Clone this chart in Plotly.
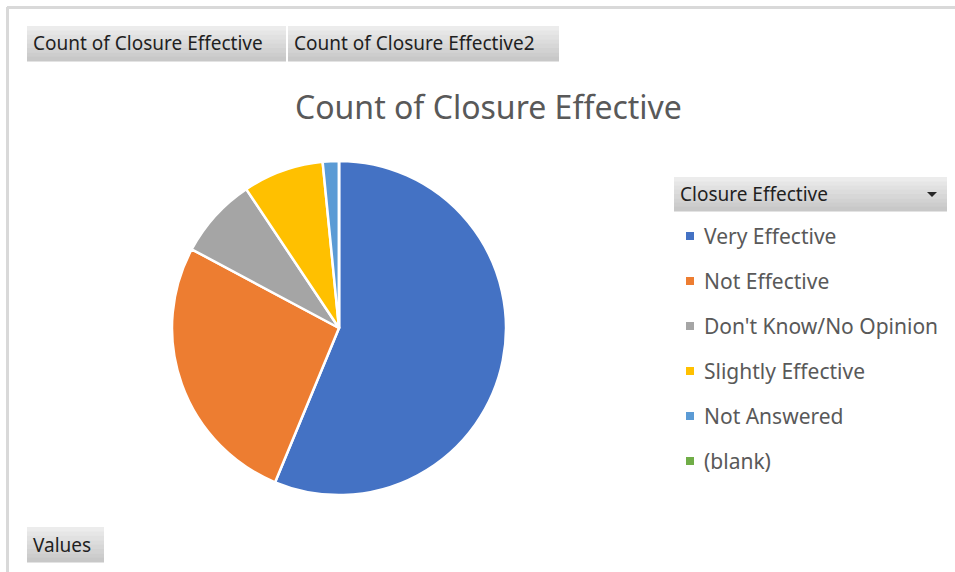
import plotly.graph_objects as go

# Survey responses: how effective was the closure
categories = ["Very Effective", "Not Effective", "Don't Know/No Opinion",
              "Slightly Effective", "Not Answered", "(blank)"]
counts = [36, 17, 5, 5, 1, 0]
colors = ["#4472C4", "#ED7D31", "#A5A5A5", "#FFC000", "#5B9BD5", "#70AD47"]

W, H = 955, 572
FONT = "Noto Sans"


def px(x):
    return x / W


def py(y):
    return 1 - y / H


fig = go.Figure()

# pie centred at (339, 328) px with radius ~166 px
cx, cy, r = 339, 328, 167
fig.add_trace(go.Pie(
    labels=categories,
    values=counts,
    marker=dict(colors=colors, line=dict(color="white", width=2.5)),
    sort=False,
    direction="clockwise",
    rotation=0,
    textinfo="none",
    hoverinfo="label+value+percent",
    showlegend=False,
    domain=dict(x=[px(cx - r), px(cx + r)], y=[py(cy + r), py(cy - r)]),
))

shapes = []
annotations = []

# outer frame (top and left edges)
shapes.append(dict(type="line", xref="paper", yref="paper",
                   x0=px(7), x1=1, y0=py(7.5), y1=py(7.5),
                   line=dict(color="#D9D9D9", width=3)))
shapes.append(dict(type="line", xref="paper", yref="paper",
                   x0=px(7.5), x1=px(7.5), y0=py(7), y1=0,
                   line=dict(color="#D9D9D9", width=3)))


def field_button(x0, x1, y0, y1, text, size=19, color="#1F1F1F", arrow=False):
    # grey gradient-look button: stack of thin bands from light to darker
    n = 8
    top = (236, 236, 236)
    bot = (200, 200, 200)
    h = (y1 - y0) / n
    for i in range(n):
        t = i / (n - 1)
        c = tuple(int(top[k] + (bot[k] - top[k]) * t) for k in range(3))
        shapes.append(dict(type="rect", xref="paper", yref="paper",
                           x0=px(x0), x1=px(x1),
                           y0=py(y0 + h * (i + 1) + 0.5), y1=py(y0 + h * i),
                           fillcolor="rgb(%d,%d,%d)" % c, line=dict(width=0),
                           layer="below"))
    annotations.append(dict(text=text, xref="paper", yref="paper",
                            x=px(x0 + 4), y=py((y0 + y1) / 2),
                            xanchor="left", yanchor="middle", showarrow=False,
                            font=dict(family=FONT, size=size, color=color)))
    if arrow:
        shapes.append(dict(type="path", xref="paper", yref="paper",
                           path="M %f %f L %f %f L %f %f Z" % (
                               px(x1 - 20), py(y0 + 15), px(x1 - 10), py(y0 + 15),
                               px(x1 - 15), py(y0 + 20)),
                           fillcolor="#262626", line=dict(width=0)))


field_button(27, 286, 26, 61, "Count of Closure Effective")
field_button(288, 559, 26, 61, "Count of Closure Effective2")
field_button(27, 104, 527, 562, "Values")
field_button(674, 947, 177, 211, "Closure Effective", arrow=True)

# chart title
annotations.append(dict(text="Count of Closure Effective", xref="paper", yref="paper",
                        x=px(488), y=py(106), xanchor="center", yanchor="middle",
                        showarrow=False,
                        font=dict(family=FONT, size=32, color="#595959")))

# legend entries listed under the field button
row0, step = 236, 45
for i, (lab, col) in enumerate(zip(categories, colors)):
    yc = row0 + i * step
    shapes.append(dict(type="rect", xref="paper", yref="paper",
                       x0=px(686), x1=px(694), y0=py(yc + 4), y1=py(yc - 4),
                       fillcolor=col, line=dict(width=0)))
    annotations.append(dict(text=lab, xref="paper", yref="paper",
                            x=px(702), y=py(yc), xanchor="left", yanchor="middle",
                            showarrow=False,
                            font=dict(family=FONT, size=21, color="#595959")))

fig.update_layout(
    width=W, height=H,
    margin=dict(l=0, r=0, t=0, b=0),
    paper_bgcolor="white",
    plot_bgcolor="white",
    shapes=shapes,
    annotations=annotations,
    showlegend=False,
)

fig.write_html("out.html")
